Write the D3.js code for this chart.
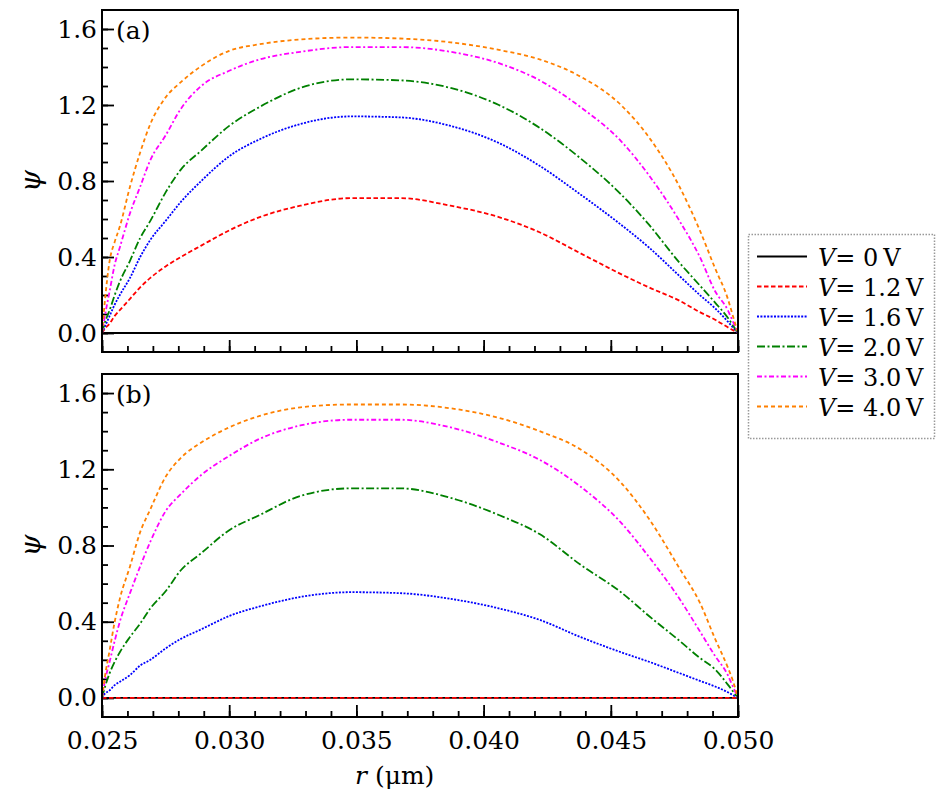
<!DOCTYPE html>
<meta charset="utf-8">
<style>
body { margin: 0; background: #fff; }
svg text { font-family: "DejaVu Serif", serif; fill: #000; }
.frame { fill: none; stroke: #000; stroke-width: 2; }
.axis path { display: none; }
.axis line { stroke: #000; stroke-width: 1.8; }
.axis text { font-size: 25px; }
.curve { fill: none; stroke-width: 1.8; }
</style>
<svg id="chart" width="942" height="800"></svg>
<script src="https://d3js.org/d3.v7.min.js"></script>
<script>

// radial positions (um), shared by every curve
var r = [0.0250, 0.0251, 0.0253, 0.0255, 0.0257, 0.0261, 0.0265, 0.0269, 0.0275, 0.0281,
         0.0289, 0.0300, 0.0312, 0.0328, 0.0348, 0.0367, 0.0387, 0.0406, 0.0422, 0.0438,
         0.0454, 0.0465, 0.0477, 0.0485, 0.0491, 0.0496, 0.0498, 0.0500];

// panel (a)
var a_v0  = [0, 0, 0, 0, 0, 0, 0, 0, 0, 0, 0, 0, 0, 0, 0, 0, 0, 0, 0, 0, 0, 0, 0, 0, 0, 0, 0, 0];
var a_v12 = [0, 0.02, 0.05, 0.09, 0.12, 0.18, 0.24, 0.29, 0.35, 0.40, 0.46, 0.54, 0.61, 0.67,
             0.71, 0.71, 0.67, 0.61, 0.53, 0.42, 0.31, 0.24, 0.17, 0.11, 0.07, 0.03, 0.015, 0];
var a_v16 = [0, 0.03, 0.09, 0.15, 0.20, 0.29, 0.40, 0.49, 0.59, 0.69, 0.80, 0.93, 1.02, 1.10,
             1.14, 1.135, 1.09, 1.00, 0.88, 0.73, 0.57, 0.45, 0.30, 0.20, 0.13, 0.06, 0.03, 0];
var a_v20 = [0, 0.05, 0.12, 0.20, 0.27, 0.38, 0.50, 0.59, 0.74, 0.86, 0.96, 1.09, 1.19, 1.29,
             1.335, 1.33, 1.29, 1.20, 1.08, 0.92, 0.73, 0.57, 0.37, 0.25, 0.16, 0.08, 0.04, 0];
var a_v30 = [0, 0.08, 0.22, 0.36, 0.45, 0.63, 0.77, 0.91, 1.04, 1.18, 1.30, 1.38, 1.44, 1.48,
             1.505, 1.505, 1.48, 1.42, 1.33, 1.19, 1.01, 0.83, 0.59, 0.40, 0.22, 0.12, 0.06, 0];
var a_v40 = [0, 0.15, 0.38, 0.48, 0.56, 0.77, 0.95, 1.10, 1.24, 1.32, 1.405, 1.485, 1.52, 1.545,
             1.555, 1.55, 1.53, 1.49, 1.44, 1.35, 1.20, 1.03, 0.77, 0.54, 0.34, 0.18, 0.09, 0];

// panel (b)
var b_v0  = [0, 0, 0, 0, 0, 0, 0, 0, 0, 0, 0, 0, 0, 0, 0, 0, 0, 0, 0, 0, 0, 0, 0, 0, 0, 0, 0, 0];
var b_v12 = [0, 0, 0, 0, 0, 0, 0, 0, 0, 0, 0, 0, 0, 0, 0, 0, 0, 0, 0, 0, 0, 0, 0, 0, 0, 0, 0, 0];
var b_v16 = [0, 0.02, 0.04, 0.067, 0.085, 0.12, 0.17, 0.20, 0.26, 0.31, 0.36, 0.43, 0.48, 0.53,
             0.555, 0.55, 0.52, 0.47, 0.41, 0.32, 0.24, 0.19, 0.13, 0.09, 0.06, 0.03, 0.015, 0];
var b_v20 = [0, 0.05, 0.13, 0.19, 0.24, 0.32, 0.39, 0.47, 0.56, 0.67, 0.76, 0.88, 0.96, 1.06,
             1.10, 1.10, 1.05, 0.96, 0.86, 0.70, 0.555, 0.43, 0.30, 0.21, 0.15, 0.07, 0.035, 0];
var b_v30 = [0, 0.08, 0.19, 0.30, 0.40, 0.55, 0.69, 0.82, 0.98, 1.07, 1.17, 1.27, 1.36, 1.43,
             1.46, 1.46, 1.42, 1.34, 1.25, 1.11, 0.92, 0.74, 0.52, 0.35, 0.22, 0.12, 0.06, 0];
var b_v40 = [0, 0.10, 0.25, 0.40, 0.52, 0.69, 0.87, 0.99, 1.16, 1.26, 1.34, 1.42, 1.48, 1.525,
             1.54, 1.54, 1.52, 1.47, 1.40, 1.305, 1.13, 0.94, 0.68, 0.50, 0.31, 0.16, 0.09, 0];

var voltages = ["0", "1.2", "1.6", "2.0", "3.0", "4.0"];
var panelLabels = ["(a)", "(b)"];
var xTicks = [0.025, 0.030, 0.035, 0.040, 0.045, 0.050];
var yTicks = [0.0, 0.4, 0.8, 1.2, 1.6];

var panels = [
  [a_v0, a_v12, a_v16, a_v20, a_v30, a_v40],
  [b_v0, b_v12, b_v16, b_v20, b_v30, b_v40]
];

var colors = ["#000000", "#ff0000", "#0000ff", "#008000", "#ff00ff", "#ff8000"];
var dashes = [null, "4.5,2.5", "2,1.4", "8,2.5,2,2.5", "5,2.5,2,2.5", "4,3"];

var svg = d3.select("svg"),
    left = 102,
    width = 636,
    tops = [10, 374],
    heights = [342, 343];

var x = d3.scaleLinear().domain([0.025, 0.050]).range([left, left + width]);

var minorX = d3.range(25, 51).map(function(d) { return d / 1000; });
var minorY = d3.range(0, 17).map(function(d) { return d / 10; });

panels.forEach(function(series, p) {
  var top = tops[p], h = heights[p];
  var y = d3.scaleLinear().domain([-0.1, 1.7]).range([top + h, top]);

  var line = d3.line()
      .curve(d3.curveMonotoneX)
      .x(function(d) { return x(d[0]); })
      .y(function(d) { return y(d[1]); });

  var g = svg.append("g");

  // minor ticks
  g.append("g")
      .attr("class", "axis")
      .attr("transform", "translate(0," + (top + h) + ")")
      .call(d3.axisBottom(x).tickValues(minorX).tickSizeInner(-6).tickSizeOuter(0).tickFormat(""));
  g.append("g")
      .attr("class", "axis")
      .attr("transform", "translate(" + left + ",0)")
      .call(d3.axisLeft(y).tickValues(minorY).tickSizeInner(-6).tickSizeOuter(0).tickFormat(""));

  // major ticks
  g.append("g")
      .attr("class", "axis")
      .attr("transform", "translate(0," + (top + h) + ")")
      .call(d3.axisBottom(x).tickValues(xTicks).tickSizeInner(-12).tickSizeOuter(0)
            .tickPadding(14).tickFormat(p == 1 ? d3.format(".3f") : ""));
  g.append("g")
      .attr("class", "axis")
      .attr("transform", "translate(" + left + ",0)")
      .call(d3.axisLeft(y).tickValues(yTicks).tickSizeInner(-12).tickSizeOuter(0)
            .tickPadding(5).tickFormat(d3.format(".1f")));

  g.selectAll(".axis").attr("font-family", null);

  series.forEach(function(vals, i) {
    var pts = r.map(function(rv, k) { return [rv, vals[k]]; });
    g.append("path")
        .datum(pts)
        .attr("class", "curve")
        .attr("d", line)
        .style("stroke", colors[i])
        .style("stroke-dasharray", dashes[i]);
  });

  g.append("rect")
      .attr("class", "frame")
      .attr("x", left)
      .attr("y", top)
      .attr("width", width)
      .attr("height", h);

  g.append("text")
      .attr("x", 116)
      .attr("y", top + 29)
      .style("font-size", "25px")
      .text(panelLabels[p]);

  g.append("text")
      .attr("transform", "translate(40," + (top + h / 2) + ") rotate(-90)")
      .attr("text-anchor", "middle")
      .style("font-size", "28px")
      .style("font-style", "italic")
      .text("\u03c8");
});

// x label
var xl = svg.append("text")
    .attr("x", 355)
    .attr("y", 784)
    .style("font-size", "25px");
xl.append("tspan").style("font-style", "italic").text("r");
xl.append("tspan").text(" (\u03bcm)");

// legend
var lg = svg.append("g");
lg.append("rect")
    .attr("x", 748.5)
    .attr("y", 234.5)
    .attr("width", 186)
    .attr("height", 204)
    .attr("fill", "white")
    .style("stroke", "#999")
    .style("stroke-width", 1.5)
    .style("stroke-dasharray", "1.5,1.5");

voltages.forEach(function(v, i) {
  var yy = 256.5 + i * 30;
  lg.append("line")
      .attr("x1", 757)
      .attr("x2", 807)
      .attr("y1", yy)
      .attr("y2", yy)
      .style("stroke", colors[i])
      .style("stroke-width", 1.8)
      .style("stroke-dasharray", dashes[i]);
  var t = lg.append("text")
      .attr("x", 818)
      .attr("y", yy + 9)
      .style("font-size", "24px");
  t.append("tspan").style("font-style", "italic").text("V");
  t.append("tspan").text("= " + v + "\u2009V");
});

</script>
